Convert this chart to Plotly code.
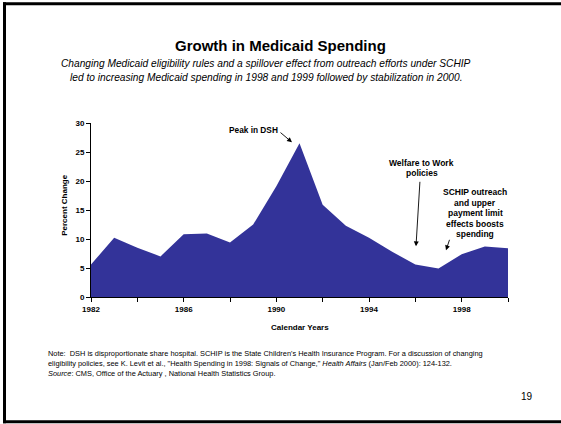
import plotly.graph_objects as go

years = list(range(1982, 2001))
pct_change = [5.6, 10.2, 8.5, 7.0, 10.8, 10.95, 9.4, 12.5, 19.1, 26.5, 15.9,
              12.3, 10.2, 7.8, 5.6, 4.9, 7.35, 8.7, 8.4]
x_tick_vals = [1982, 1986, 1990, 1994, 1998]
x_tick_text = ["1982", "1986", "1990", "1994", "1998"]
y_tick_vals = [0, 5, 10, 15, 20, 25, 30]

W, H = 561, 424
L, R, T, B = 91, 53, 122.7, 127.3
PW = W - L - R
PH = H - T - B

def px(x):
    return (x - L) / PW

def py(y):
    return (H - B - y) / PH

FONT = "Liberation Sans, Arial, sans-serif"
FILL = "#333399"

fig = go.Figure()
fig.add_trace(go.Scatter(
    x=years, y=pct_change, mode="lines", fill="tozeroy",
    line=dict(color=FILL, width=0), fillcolor=FILL, hoverinfo="skip",
    showlegend=False,
))

ann = []
def text(x, y, t, size, bold=False, italic=False, xanchor="center", align="center"):
    s = t
    if bold:
        s = "<b>" + s + "</b>"
    if italic:
        s = "<i>" + s + "</i>"
    ann.append(dict(x=px(x), y=py(y), xref="paper", yref="paper", text=s,
                    showarrow=False, xanchor=xanchor, yanchor="middle", align=align,
                    font=dict(family=FONT, size=size, color="black")))

text(280, 45, "Growth in Medicaid Spending", 15, bold=True)
text(266, 63, "Changing Medicaid eligibility rules and a spillover effect from outreach efforts under SCHIP", 10.2, italic=True)
text(266, 77, "led to increasing Medicaid spending in 1998 and 1999 followed by stabilization in 2000.", 10.2, italic=True)

text(299.5, 327, "Calendar Years", 8, bold=True)
ann.append(dict(x=px(64.5), y=py(205), xref="paper", yref="paper",
                text="<b>Percent Change</b>", showarrow=False, textangle=-90,
                xanchor="center", yanchor="middle",
                font=dict(family=FONT, size=8, color="black")))

# chart annotations
text(253.5, 130, "Peak in DSH", 8.3, bold=True)
text(421.5, 163, "Welfare to Work", 8.5, bold=True)
text(421.5, 173, "policies", 8.5, bold=True)
for i, line in enumerate(["SCHIP outreach", "and upper", "payment limit", "effects boosts", "spending"]):
    text(475, 192 + i * 10.5, line, 8.5, bold=True)

def arrow(x0, y0, x1, y1):
    ann.append(dict(x=px(x1), y=py(y1), xref="paper", yref="paper",
                    ax=x0 - x1, ay=y0 - y1, axref="pixel", ayref="pixel",
                    text="", showarrow=True, arrowhead=2, arrowsize=1.1,
                    arrowwidth=0.9, arrowcolor="black", standoff=0))

arrow(279, 131, 292, 142)
arrow(420, 180, 416, 246)
arrow(450, 238, 446, 250)

# notes
text(46, 352.7, "Note:  DSH is disproportionate share hospital. SCHIP is the State Children's Health Insurance Program. For a discussion of changing", 7.4, xanchor="left", align="left")
text(46, 362.7, "eligibility policies, see K. Levit et al., \"Health Spending in 1998: Signals of Change,\" <i>Health Affairs</i> (Jan/Feb 2000): 124-132.", 7.4, xanchor="left", align="left")
text(46, 373.5, "<i>Source</i>: CMS, Office of the Actuary , National Health Statistics Group.", 7.4, xanchor="left", align="left")
text(526.5, 396, "19", 10)

def seg(x0, y0, x1, y1):
    return dict(type="line", xref="paper", yref="paper",
                x0=px(x0), x1=px(x1), y0=py(y0), y1=py(y1),
                line=dict(color="black", width=3))

shapes = [
    seg(3, 3.5, 561, 3.5),
    seg(4.5, 2, 4.5, 423),
    seg(3, 421.5, 561, 421.5),
]

fig.update_layout(
    width=W, height=H,
    margin=dict(l=L, r=R, t=T, b=B),
    paper_bgcolor="white", plot_bgcolor="white",
    annotations=ann, shapes=shapes,
    font=dict(family=FONT, color="black"),
    xaxis=dict(range=[1982, 2000], tickvals=x_tick_vals, ticktext=x_tick_text,
               showgrid=False, zeroline=False, showline=True, linecolor="black",
               linewidth=1, ticks="outside", ticklen=4, tickcolor="black",
               tickfont=dict(family=FONT, size=8, color="black", weight="bold"),
               minor=dict(dtick=2, tick0=1982, ticks="outside", ticklen=4,
                          tickcolor="black", showgrid=False)),
    yaxis=dict(range=[0, 30], tickvals=y_tick_vals, showgrid=False, zeroline=False,
               showline=True, linecolor="black", linewidth=1, ticks="outside",
               ticklen=4, tickcolor="black",
               tickfont=dict(family=FONT, size=8, color="black", weight="bold")),
)

fig.write_html("out.html", config={"displayModeBar": False},
               post_script="document.body.style.margin='0px';document.body.style.overflow='hidden';")
